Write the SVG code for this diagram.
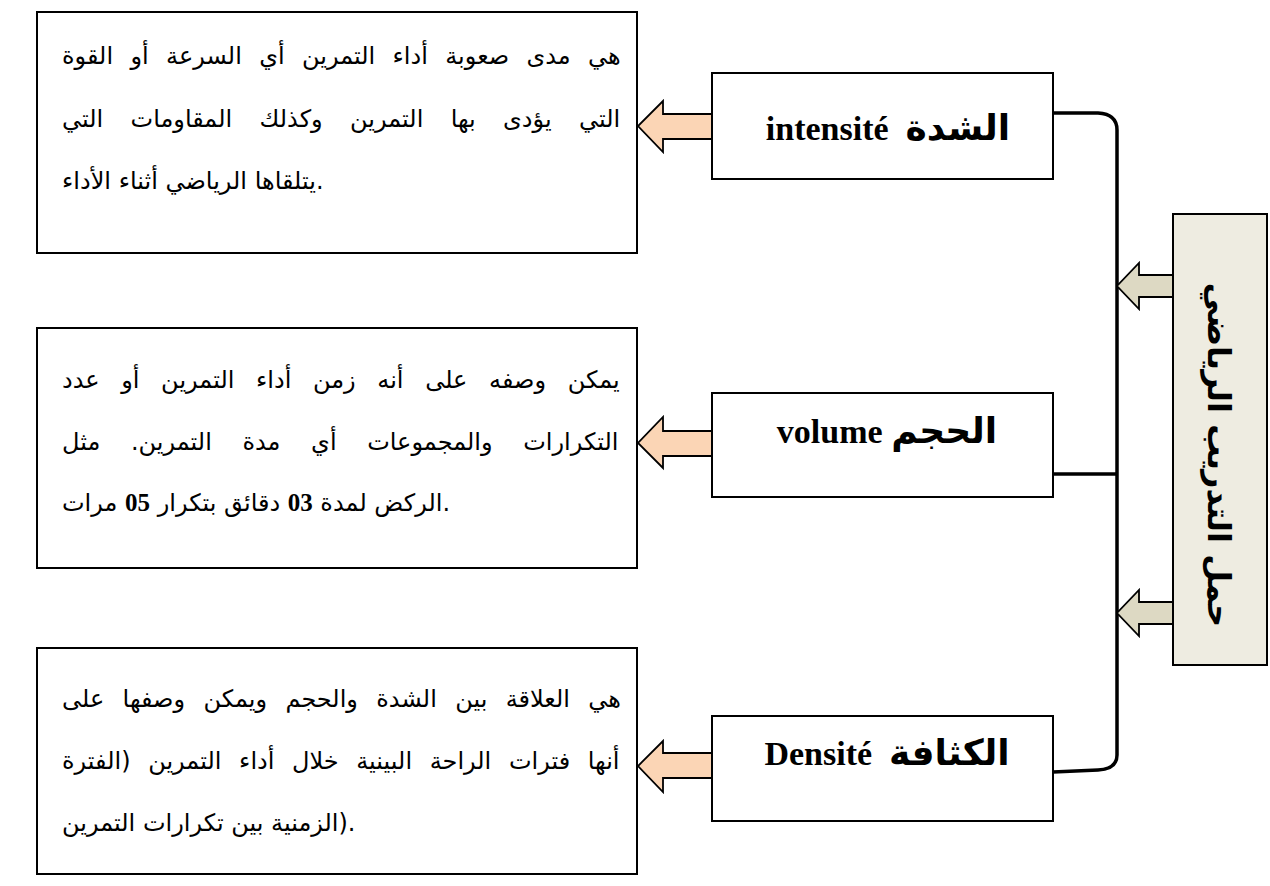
<svg xmlns="http://www.w3.org/2000/svg" width="1270" height="886" viewBox="0 0 1270 886">
<style>
.box{fill:#fff;stroke:#000;stroke-width:2}
.side{fill:#EEECE1;stroke:#000;stroke-width:2}
.oarrow{fill:#FBD5B5;stroke:#000;stroke-width:1.8;stroke-linejoin:miter}
.tarrow{fill:#DDD9C3;stroke:#000;stroke-width:1.8}
.para{font-family:"DejaVu Sans",sans-serif;font-size:24px;fill:#000}
.num{font-family:"Liberation Serif",serif;font-weight:bold;font-size:25px}
.label{font-family:"Liberation Serif","DejaVu Sans",serif;font-weight:bold;font-size:34px;fill:#000;white-space:pre}
.ar{font-family:"DejaVu Sans",sans-serif;font-size:36px}
.vtext{font-family:"DejaVu Sans",sans-serif;font-weight:bold;font-size:32px;fill:#000}
.conn{fill:none;stroke:#000;stroke-width:3.5}
</style>
<rect width="1270" height="886" fill="#fff"/>
<g id="connectors">
<path class="conn" d="M1053,113 L1098,113 Q1117,114 1117,130 L1117,755 Q1117,769 1098,770 L1053,772"/>
<path class="conn" d="M1053,474 L1117,474"/>
<polygon class="oarrow" points="712,114 663,114 663,101 638,126 663,152 663,139 712,139"/>
<polygon class="oarrow" points="712,431 663,431 663,417 638,443 663,468 663,456 712,456"/>
<polygon class="oarrow" points="712,753 663,753 663,741 638,766 663,792 663,778 712,778"/>
<polygon class="tarrow" points="1173,275 1139,275 1139,263 1117,286 1139,309 1139,297 1173,297"/>
<polygon class="tarrow" points="1173,602 1139,602 1139,590 1117,613 1139,636 1139,624 1173,624"/>
</g>
<g id="node-main">
<rect class="side" x="1173" y="214" width="94" height="451"/>
<text class="vtext" transform="translate(1208,455) rotate(90)" text-anchor="middle">حمل التدريب الرياضي</text>
</g>
<g id="node-intensite">
<rect class="box" x="712" y="73" width="341" height="106"/>
<text class="label" x="888" y="140" text-anchor="middle">intensité  <tspan class="ar">الشدة</tspan></text>
</g>
<g id="node-volume">
<rect class="box" x="712" y="393" width="341" height="104"/>
<text class="label" x="887" y="443" text-anchor="middle">volume <tspan class="ar">الحجم</tspan></text>
</g>
<g id="node-densite">
<rect class="box" x="712" y="716" width="341" height="105"/>
<text class="label" x="887" y="765" text-anchor="middle">Densité  <tspan class="ar">الكثافة</tspan></text>
</g>
<g id="node-desc-intensite">
<rect class="box" x="37" y="12" width="600" height="241"/>
<text class="para" x="62" y="64" word-spacing="9.7">هي مدى صعوبة أداء التمرين أي السرعة أو القوة</text>
<text class="para" x="62" y="127" word-spacing="19.7">التي يؤدى بها التمرين وكذلك المقاومات التي</text>
<text class="para" x="62" y="189">يتلقاها الرياضي أثناء الأداء.</text>
</g>
<g id="node-desc-volume">
<rect class="box" x="37" y="328" width="600" height="240"/>
<text class="para" x="62" y="388" word-spacing="14">يمكن وصفه على أنه زمن أداء التمرين أو عدد</text>
<text class="para" x="62" y="450" word-spacing="23">التكرارات والمجموعات أي مدة التمرين. مثل</text>
<text class="para" x="62" y="511">الركض لمدة <tspan class="num">03</tspan> دقائق بتكرار <tspan class="num">05</tspan> مرات.</text>
</g>
<g id="node-desc-densite">
<rect class="box" x="37" y="648" width="600" height="226"/>
<text class="para" x="62" y="707" word-spacing="10.7">هي العلاقة بين الشدة والحجم ويمكن وصفها على</text>
<text class="para" x="62" y="769" word-spacing="10">أنها فترات الراحة البينية خلال أداء التمرين (الفترة</text>
<text class="para" x="62" y="831">الزمنية بين تكرارات التمرين).</text>
</g>
</svg>
